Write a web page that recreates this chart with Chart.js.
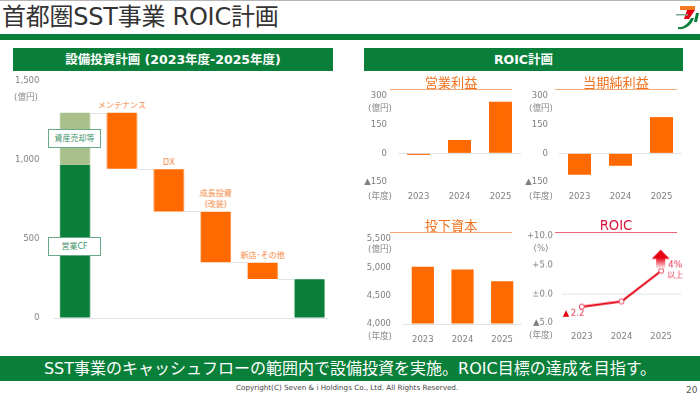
<!DOCTYPE html>
<html lang="ja">
<head>
<meta charset="utf-8">
<script src="https://cdn.jsdelivr.net/npm/chart.js@4"></script>
<style>
  html, body { margin: 0; padding: 0; background: #fff; }
  body { width: 700px; height: 400px; position: relative; overflow: hidden;
         font-family: "DejaVu Sans", "Noto Sans CJK JP", sans-serif; color: #7f7f7f; }
  canvas { position: absolute; }
  .abs { position: absolute; }
  .green { background: #0a7f3a; }
  .head { top: 48px; height: 23px; line-height: 23px; color: #fff; text-align: center; font-size: 12.5px; font-weight: bold; }
  .note { position: absolute; transform: translate(-50%, -50%); font-size: 8.6px; white-space: nowrap; color: #8a8a8a; }
  .sub { position: absolute; transform: translate(-50%, -50%); font-size: 13.2px; white-space: nowrap; color: #f2711c; font-family: "Noto Sans CJK JP", sans-serif; }
  .rule { position: absolute; width: 122px; height: 1px; background: #f5a874; }
  .tag { position: absolute; left: 48px; width: 51px; height: 17px; line-height: 17px; background: #fff; border: 1px solid #6aa987;
         color: #3f9468; font-size: 8px; text-align: center; }
</style>
</head>
<body>
<div class="abs" style="left:0;top:0;width:700px;height:1px;background:#b5b5b5"></div>
<div class="abs" style="left:2px;top:0;font-size:24px;letter-spacing:-0.25px;line-height:34px;color:#333;white-space:nowrap">首都圏SST事業 ROIC計画</div>
<div class="abs green" style="left:0;top:34px;width:700px;height:6px"></div>
<svg class="abs" style="left:676px;top:4px" width="24" height="26" viewBox="0 0 24 26">
  <rect x="4" y="2" width="15" height="4" fill="#f47b20"/>
  <path d="M11 6h8l-6 9h-5z" fill="#e60012"/>
  <path d="M2 23c5 1 10-3 13-9l3 0c-2 7-9 12-16 11z" fill="#0a7f3a"/>
  <path d="M20 9h3l-2 9h-3z" fill="#0a7f3a"/>
  <rect x="0" y="10" width="12" height="1.5" fill="#7fa98f"/>
</svg>

<div class="abs green head" style="left:13px;width:320px">設備投資計画 (2023年度-2025年度)</div>
<div class="abs green head" style="left:364px;width:319px">ROIC計画</div>

<canvas id="capexChart"></canvas>
<canvas id="opChart"></canvas>
<canvas id="netChart"></canvas>
<canvas id="capitalChart"></canvas>
<canvas id="roicChart"></canvas>

<div class="note" style="left:26px;top:96px">(億円)</div>
<div class="tag" style="top:129px">資産売却等</div>
<div class="tag" style="top:237px">営業CF</div>

<div class="sub" style="left:451px;top:82px">営業利益</div>
<div class="rule" style="left:390px;top:89px"></div>
<div class="sub" style="left:616px;top:82px">当期純利益</div>
<div class="rule" style="left:555px;top:89px"></div>
<div class="sub" style="left:451px;top:225px">投下資本</div>
<div class="rule" style="left:390px;top:232px"></div>
<div class="sub" style="left:616px;top:225px;color:#d9143a;font-family:'DejaVu Sans',sans-serif">ROIC</div>
<div class="rule" style="left:555px;top:232px;background:#ee6474"></div>

<div class="note" style="left:380px;top:107px">(億円)</div>
<div class="note" style="left:380px;top:195px">(年度)</div>
<div class="note" style="left:541px;top:107px">(億円)</div>
<div class="note" style="left:541px;top:195px">(年度)</div>
<div class="note" style="left:380px;top:248px">(億円)</div>
<div class="note" style="left:380px;top:335px">(年度)</div>
<div class="note" style="left:541px;top:248px">(%)</div>
<div class="note" style="left:541px;top:334px">(年度)</div>

<div class="abs green" style="left:0;top:356px;width:700px;height:25px;line-height:25px;color:#fff;text-align:center;font-size:16px;white-space:nowrap">SST事業のキャッシュフローの範囲内で設備投資を実施。ROIC目標の達成を目指す。</div>
<div class="abs" style="left:236px;top:382px;font-size:7.2px;line-height:11px;color:#444;white-space:nowrap">Copyright(C) Seven &amp; i Holdings Co., Ltd. All Rights Reserved.</div>
<div class="abs" style="left:686px;top:384px;font-size:9px;line-height:12px;color:#555">20</div>

<script>
// waterfall, values in 億円
const capexSteps = ['営業CF', 'メンテナンス', 'DX', '成長投資', '新店・その他', '残'];
const capexCash = [970, null, null, null, null, null];
const capexSales = [1300, null, null, null, null, null];
const capexSpendTop = [null, 1300, 942, 672, 350, null];
const capexSpendBottom = [null, 945, 675, 353, 247, null];
const capexRemain = [null, null, null, null, null, 245];
const capexTicks = [0, 500, 1000, 1500];
const capexTickLabels = ['0', '500', '1,000', '1,500'];
const capexNotes = [null, ['メンテナンス'], ['DX'], ['成長投資', '(改装)'], ['新店･その他'], null];

const years = ['2023', '2024', '2025'];
const opProfit = [-8, 70, 270];
const netProfit = [-112, -65, 190];
const profitTicks = [-150, 0, 150, 300];
const profitTickLabels = ['▲150', '0', '150', '300'];
const capital = [5010, 4965, 4755];
const capitalTicks = [4000, 4500, 5000, 5500];
const capitalTickLabels = ['4,000', '4,500', '5,000', '5,500'];
const roic = [-2.2, -1.3, 4];
const roicTicks = [-5, 0, 5, 10];
const roicTickLabels = ['▲5.0', '±0.0', '+5.0', '+10.0'];

const GREEN = '#0a7f3a';
const LIGHT_GREEN = '#a9c08d';
const ORANGE = '#ff6a00';
const RED = '#e60012';
const GREY = '#7f7f7f';
const LINE = '#dfe3e6';
const FONT = '"DejaVu Sans", "Noto Sans CJK JP", sans-serif';

// put the canvas so that the plot area lands on the given box
function place(id, box) {
  const c = document.getElementById(id);
  const w = box.right - box.left + box.axisW + 10;
  const h = box.bottom - box.top + 16 + box.axisH;
  c.width = w;
  c.height = h;
  c.style.width = w + 'px';
  c.style.height = h + 'px';
  c.style.left = (box.left - box.axisW) + 'px';
  c.style.top = (box.top - 16) + 'px';
  return c;
}

function axes(box, ticks, tickLabels, baseValue) {
  return {
    x: {
      grid: { display: false },
      border: { display: false },
      ticks: {
        color: box.hideX ? 'transparent' : GREY,
        font: { size: 8.5, family: FONT },
        padding: box.xPad,
        maxRotation: 0,
        autoSkip: false
      },
      afterFit: s => { s.height = box.axisH; }
    },
    y: {
      min: ticks[0],
      max: ticks[ticks.length - 1],
      border: { display: false },
      grid: {
        drawTicks: false,
        color: c => (c.tick.value === baseValue ? LINE : 'transparent')
      },
      afterBuildTicks: s => { s.ticks = ticks.map(v => ({ value: v })); },
      ticks: {
        color: GREY,
        padding: box.tickPad,
        font: { size: 8.5, family: FONT },
        callback: v => tickLabels[ticks.indexOf(v)]
      },
      afterFit: s => { s.width = box.axisW; }
    }
  };
}

function baseOptions(box, ticks, tickLabels, baseValue) {
  return {
    responsive: false,
    animation: false,
    devicePixelRatio: 1,
    layout: { padding: { top: 8, right: 10, left: 0, bottom: 0 } },
    plugins: { legend: { display: false }, tooltip: { enabled: false } },
    scales: axes(box, ticks, tickLabels, baseValue)
  };
}

function smallBars(id, box, values, ticks, tickLabels, baseValue, barPct) {
  new Chart(place(id, box), {
    type: 'bar',
    data: { labels: years, datasets: [{ data: values, backgroundColor: ORANGE, barPercentage: barPct, categoryPercentage: 1, base: baseValue }] },
    options: baseOptions(box, ticks, tickLabels, baseValue)
  });
}

// connectors, baseline and the step names over the waterfall
const waterfallExtras = {
  id: 'waterfallExtras',
  afterDatasetsDraw(chart) {
    const { ctx, scales: { x, y }, chartArea } = chart;
    const half = 15;
    ctx.save();
    ctx.strokeStyle = LINE;
    ctx.lineWidth = 1;
    ctx.beginPath();
    ctx.moveTo(chartArea.left + 2, Math.round(y.getPixelForValue(0)) + 0.5);
    ctx.lineTo(chartArea.right - 5, Math.round(y.getPixelForValue(0)) + 0.5);
    const levels = [capexSales[0], capexSpendBottom[1], capexSpendBottom[2], capexSpendBottom[3], capexSpendBottom[4]];
    levels.forEach((v, i) => {
      const py = Math.round(y.getPixelForValue(v)) + 0.5;
      ctx.moveTo(x.getPixelForValue(i) + half, py);
      ctx.lineTo(x.getPixelForValue(i + 1) - half, py);
    });
    ctx.stroke();
    ctx.fillStyle = '#f2803a';
    ctx.font = '8px ' + FONT;
    ctx.textAlign = 'center';
    ctx.textBaseline = 'middle';
    capexNotes.forEach((lines, i) => {
      if (!lines) return;
      const top = y.getPixelForValue(capexSpendTop[i]);
      lines.forEach((t, k) => {
        ctx.fillText(t, x.getPixelForValue(i), top - 6.5 - (lines.length - 1 - k) * 11);
      });
    });
    ctx.restore();
  }
};

// value labels and the rising arrow on the ROIC line
const roicExtras = {
  id: 'roicExtras',
  afterDatasetsDraw(chart) {
    const { ctx } = chart;
    const pts = chart.getDatasetMeta(0).data;
    const first = pts[0];
    const last = pts[2];
    ctx.save();
    ctx.textBaseline = 'middle';
    ctx.fillStyle = RED;
    ctx.font = '8.5px ' + FONT;
    ctx.fillText('▲', first.x - 19, first.y + 7);
    ctx.fillStyle = '#e8384f';
    ctx.fillText('2.2', first.x - 11, first.y + 7);
    ctx.textAlign = 'center';
    ctx.font = '9px ' + FONT;
    ctx.fillText('4%', last.x + 14, last.y - 6);
    ctx.font = '8px ' + FONT;
    ctx.fillText('以上', last.x + 14, last.y + 4);

    const ax = last.x - 0.5;
    const top = last.y - 21;
    const grad = ctx.createLinearGradient(0, top + 8, 0, top + 19);
    grad.addColorStop(0, RED);
    grad.addColorStop(1, '#ffffff');
    ctx.fillStyle = RED;
    ctx.beginPath();
    ctx.moveTo(ax, top);
    ctx.lineTo(ax + 9, top + 9);
    ctx.lineTo(ax - 9, top + 9);
    ctx.closePath();
    ctx.fill();
    ctx.fillStyle = grad;
    ctx.fillRect(ax - 4.5, top + 8.5, 9, 10);
    ctx.restore();
  }
};

const capexBox = { left: 51.4, right: 332.8, top: 80, bottom: 318, axisW: 51.4, axisH: 20, tickPad: 12, xPad: 2, hideX: true };
new Chart(place('capexChart', capexBox), {
  type: 'bar',
  data: {
    labels: capexSteps,
    datasets: [
      { data: capexSales.map(v => (v === null ? null : [capexCash[0], v])), backgroundColor: LIGHT_GREEN },
      { data: capexCash.map(v => (v === null ? null : [0, v])), backgroundColor: GREEN },
      { data: capexSpendTop.map((v, i) => (v === null ? null : [capexSpendBottom[i], v])), backgroundColor: ORANGE },
      { data: capexRemain.map(v => (v === null ? null : [0, v])), backgroundColor: GREEN }
    ].map(d => Object.assign(d, { grouped: false, barPercentage: 0.64, categoryPercentage: 1 }))
  },
  options: baseOptions(capexBox, capexTicks, capexTickLabels, null),
  plugins: [waterfallExtras]
});

smallBars('opChart', { left: 397.5, right: 521, top: 96, bottom: 182, axisW: 35, axisH: 20, tickPad: 11, xPad: 2 },
  opProfit, profitTicks, profitTickLabels, 0, 0.56);
smallBars('netChart', { left: 558.5, right: 681.5, top: 96, bottom: 182, axisW: 35, axisH: 20, tickPad: 11, xPad: 2 },
  netProfit, profitTicks, profitTickLabels, 0, 0.56);
smallBars('capitalChart', { left: 402.5, right: 522, top: 237.5, bottom: 323.5, axisW: 40, axisH: 20, tickPad: 12, xPad: 3 },
  capital, capitalTicks, capitalTickLabels, 4000, 0.56);

const roicBox = { left: 562, right: 681, top: 238, bottom: 322.5, axisW: 35, axisH: 20, tickPad: 9, xPad: 1 };
new Chart(place('roicChart', roicBox), {
  type: 'line',
  data: {
    labels: years,
    datasets: [{
      data: roic,
      borderColor: RED,
      borderWidth: 2,
      tension: 0,
      pointRadius: 2.5,
      pointBackgroundColor: '#fff',
      pointBorderColor: '#e8384f',
      pointBorderWidth: 1
    }]
  },
  options: (() => {
    const o = baseOptions(roicBox, roicTicks, roicTickLabels, 0);
    o.scales.x.offset = true;
    return o;
  })(),
  plugins: [roicExtras]
});
</script>
</body>
</html>
